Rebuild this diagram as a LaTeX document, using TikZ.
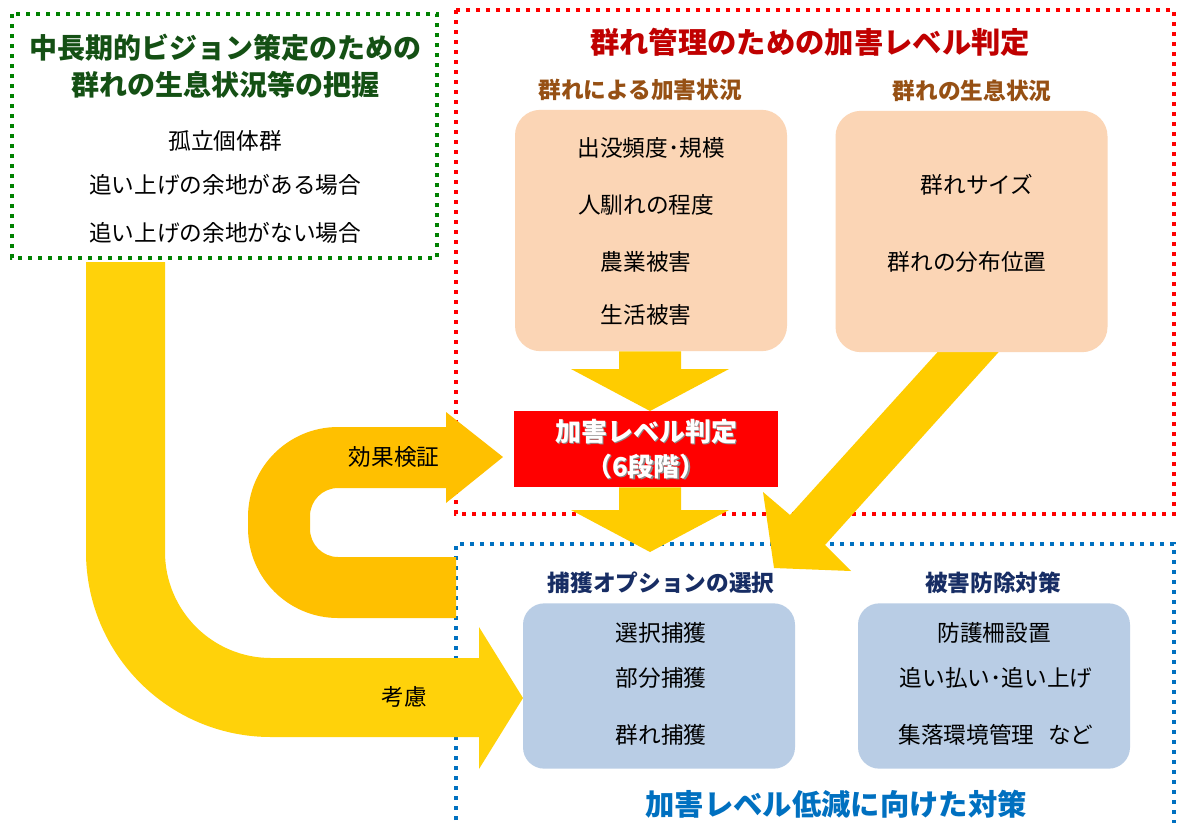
\documentclass[tikz,border=0pt]{standalone}
\usepackage{fontspec}
\setmainfont{Noto Sans CJK JP}
\usepackage{tikz}
\usetikzlibrary{calc}

\definecolor{visiongreen}{RGB}{0,128,0}
\definecolor{visiontext}{RGB}{20,80,20}
\definecolor{judgered}{RGB}{255,0,0}
\definecolor{judgetext}{RGB}{192,0,0}
\definecolor{statebrown}{RGB}{150,80,20}
\definecolor{peachfill}{RGB}{251,213,181}
\definecolor{measureblue}{RGB}{0,112,192}
\definecolor{measurenavy}{RGB}{23,45,100}
\definecolor{bluefill}{RGB}{185,205,229}
\definecolor{flowyellow}{RGB}{255,204,0}
\definecolor{lyellow}{RGB}{255,210,10}
\definecolor{uyellow}{RGB}{255,192,0}

\tikzset{
  dotframe/.style={line width=3pt, dash pattern=on 3pt off 4.5pt},
  bigtitle/.style={font=\fontsize{22}{27.75}\selectfont\bfseries, align=center},
  subtitle/.style={font=\fontsize{17}{20}\selectfont\bfseries},
  itemtext/.style={font=\fontsize{17}{20}\selectfont},
  peachbox/.style={fill=peachfill, rounded corners=19pt, minimum width=204pt,
    minimum height=181pt, inner sep=0pt},
  bluebox/.style={fill=bluefill, rounded corners=16pt, minimum width=204pt,
    minimum height=124pt, inner sep=0pt},
}

% block arrow pointing down, from the bottom of #1 to the tip #2
\newcommand{\dropto}[2]{%
  \fill[flowyellow] ($(#2 |- #1)+(-31,0)$) -- ($(#2)+(-31,-42)$)
    -- ($(#2)+(-79,-42)$) -- (#2) -- ($(#2)+(79,-42)$)
    -- ($(#2)+(31,-42)$) -- ($(#2 |- #1)+(31,0)$) -- cycle;}

\begin{document}
\begin{tikzpicture}[x=0.75pt, y=-0.75pt]
  \useasboundingbox (0,0) rectangle (1177,822);
  \clip (0,0) rectangle (1177,822);
  \fill[white] (0,0) rectangle (1177,822);

  % dotted frames
  \draw[dotframe, visiongreen] (12,14) rectangle (437,258);
  \draw[dotframe, judgered] (456,10) rectangle (1174,514);
  \draw[dotframe, measureblue] (456,830) -- (456,544) -- (1174,544) -- (1174,830);

  % diagonal arrow from the right box
  \fill[flowyellow] (944,345) -- (790,515) -- (763,492) -- (774,568)
    -- (851,571) -- (825,545) -- (1005,345) -- cycle;

  % boxes
  \node[peachbox] (peachL) at (651,230.5) {};
  \node[peachbox] (peachR) at (971.5,231.5) {};
  \node[fill=judgered, minimum width=198pt, minimum height=57pt, inner sep=0pt]
    (level) at (646,449) {};
  \node[bluebox] (blueL) at (659,686) {};
  \node[bluebox] (blueR) at (994,686) {};

  % down arrows
  \coordinate (tipA) at (650,411);
  \coordinate (tipB) at (650,552);
  \dropto{peachL.south}{tipA}
  \dropto{level.south}{tipB}

  % long arrow (consideration)
  \fill[lyellow] (86,262) -- (86,552)
    arc[start angle=180, end angle=270, radius=138.75pt]
    -- (479,737) -- (479,769) -- (523,698) -- (479,627) -- (479,658) -- (271,658)
    arc[start angle=270, end angle=180, radius=79.5pt]
    -- (165,262) -- cycle;

  % return arrow (verification)
  \fill[uyellow] (503,457) -- (446,503) -- (446,488) -- (338,488)
    arc[start angle=90, end angle=180, radius=21pt] -- (310,529)
    arc[start angle=180, end angle=270, radius=21pt] -- (456,557) -- (456,618)
    -- (338,618)
    arc[start angle=270, end angle=180, radius=67.5pt] -- (248,517)
    arc[start angle=180, end angle=90, radius=67.5pt] -- (446,427) -- (446,412)
    -- cycle;

  % left frame
  \node[bigtitle, font=\fontsize{21}{27.75}\selectfont\bfseries, text=visiontext]
    (visiontitle) at (225,66) {中長期的ビジョン策定のための\\群れの生息状況等の把握};
  \node[itemtext] (isolated) at (225,141) {孤立個体群};
  \node[itemtext] (pushable) at (225,185) {追い上げの余地がある場合};
  \node[itemtext] (nopush) at (225,233) {追い上げの余地がない場合};

  % judgement frame
  \node[bigtitle, text=judgetext] (judgetitle) at (810,42) {群れ管理のための加害レベル判定};
  \node[subtitle, text=statebrown] (damagehead) at (640,90) {群れによる加害状況};
  \node[subtitle, text=statebrown] (habithead) at (972,91) {群れの生息状況};
  \node[itemtext] (freq) at (651,148) {出没頻度･規模};
  \node[itemtext] (habit) at (646,205) {人馴れの程度};
  \node[itemtext] (agri) at (646,262) {農業被害};
  \node[itemtext] (life) at (646,315) {生活被害};
  \node[itemtext] (size) at (977,185) {群れサイズ};
  \node[itemtext] (spread) at (967,262) {群れの分布位置};
  \node[font=\fontsize{19.5}{26}\selectfont\bfseries, text=black!45, align=center]
    (levelshadow) at ($(level)+(1.5,1.5)$) {加害レベル判定\\（6段階）};
  \node[font=\fontsize{19.5}{26}\selectfont\bfseries, text=white, align=center]
    (leveltext) at (level) {加害レベル判定\\（6段階）};

  % arrow labels
  \node[itemtext] (verify) at (394,457) {効果検証};
  \node[itemtext] (consider) at (404,697) {考慮};

  % measures frame
  \node[subtitle, text=measurenavy] (capturehead) at (661,583) {捕獲オプションの選択};
  \node[subtitle, text=measurenavy] (protecthead) at (993,583) {被害防除対策};
  \node[itemtext] (selcap) at (661,633) {選択捕獲};
  \node[itemtext] (partcap) at (661,678) {部分捕獲};
  \node[itemtext] (groupcap) at (661,735) {群れ捕獲};
  \node[itemtext] (fence) at (994,633) {防護柵設置};
  \node[itemtext] (chase) at (996,678) {追い払い･追い上げ};
  \node[itemtext] (village) at (996,735) {集落環境管理\hspace{0.6em}など};
  \node[bigtitle, text=measureblue] (measuretitle) at (836,804) {加害レベル低減に向けた対策};
\end{tikzpicture}
\end{document}
